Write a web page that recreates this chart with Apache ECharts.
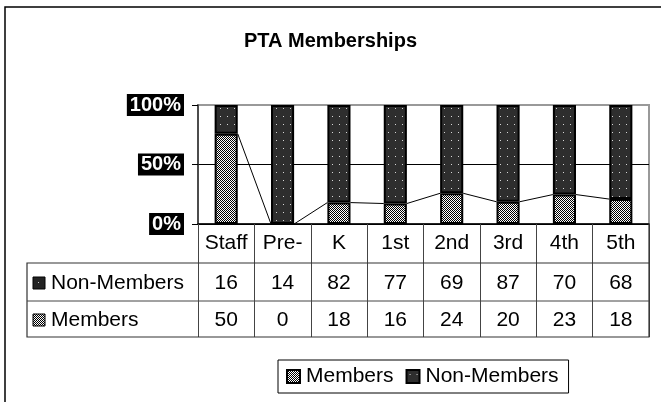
<!DOCTYPE html>
<html>
<head>
<meta charset="utf-8">
<script src="https://cdn.jsdelivr.net/npm/echarts@6/dist/echarts.min.js"></script>
<style>
  html, body { margin: 0; padding: 0; background: #fff; }
  #chart { width: 661px; height: 402px; }
</style>
</head>
<body>
<div id="chart"></div>
<script>
// data
const categories = ['Staff', 'Pre-', 'K', '1st', '2nd', '3rd', '4th', '5th'];
const members = [50, 0, 18, 16, 24, 20, 23, 18];
const nonMembers = [16, 14, 82, 77, 69, 87, 70, 68];
const yTickLabels = ['0%', '50%', '100%'];

const FONT = '"Liberation Sans", Arial, sans-serif';

// 100% stack: share of each school group
const membersPct = members.map((m, i) => m / (m + nonMembers[i]) * 100);
const nonMembersPct = nonMembers.map((n, i) => n / (members[i] + n) * 100);

// old excel fill patterns
function makePattern(kind) {
  const c = document.createElement('canvas');
  const ctx = c.getContext('2d');
  if (kind === 'checker') {
    c.width = 2; c.height = 2;
    ctx.fillStyle = '#fff'; ctx.fillRect(0, 0, 2, 2);
    ctx.fillStyle = '#000'; ctx.fillRect(0, 0, 1, 1); ctx.fillRect(1, 1, 1, 1);
  } else {
    c.width = 7; c.height = 8;
    ctx.fillStyle = '#2e2e2e'; ctx.fillRect(0, 0, 7, 8);
    ctx.fillStyle = '#d8d8d8'; ctx.fillRect(3, 4, 1, 1);
  }
  return { image: c, repeat: 'repeat' };
}
const memberFill = makePattern('checker');
const nonMemberFill = makePattern('dots');

const chart = echarts.init(document.getElementById('chart'));

const BAR_RATIO = 0.41;
const ROW_TOP = 263, ROW_MID = 301, ROW_BOT = 337;
const TABLE_LEFT = 27, TABLE_RIGHT = 649;

const option = {
  animation: false,
  textStyle: { fontFamily: FONT },
  title: {
    text: 'PTA Memberships',
    left: 'center',
    top: 26,
    textStyle: { fontSize: 20, fontWeight: 'bold', color: '#000', fontFamily: FONT }
  },
  legend: {
    data: ['Members', 'Non-Members'],
    left: 278,
    top: 360,
    icon: 'rect',
    itemWidth: 13,
    itemHeight: 13,
    itemGap: 12,
    padding: [6, 10, 6, 8],
    borderColor: '#000',
    borderWidth: 1,
    selectedMode: false,
    textStyle: { fontSize: 21, color: '#000', fontFamily: FONT, padding: [0, 0, 0, 1] }
  },
  grid: {
    left: 198, right: 12, top: 105, bottom: 178,
    show: true, borderColor: '#999', borderWidth: 2, backgroundColor: '#fff'
  },
  xAxis: {
    type: 'category',
    data: categories,
    axisLine: { lineStyle: { color: '#000', width: 1.5 } },
    axisTick: { show: true, length: ROW_BOT - 224, lineStyle: { color: '#444', width: 1 } },
    axisLabel: { fontSize: 21, color: '#000', margin: 9, fontFamily: FONT },
    splitLine: { show: false }
  },
  yAxis: {
    type: 'value',
    min: 0, max: 100, interval: 50,
    axisLine: { show: true, lineStyle: { color: '#333', width: 1.5 } },
    axisTick: { show: true, length: 6, lineStyle: { color: '#000' } },
    axisLabel: {
      formatter: (v) => yTickLabels[v / 50],
      color: '#fff', backgroundColor: '#000', fontWeight: 'bold',
      fontSize: 20, padding: [2, 3, 0, 3], margin: 14, fontFamily: FONT
    },
    splitLine: { show: true, lineStyle: { color: ['#000', '#000', '#999'], width: 1 } }
  },
  graphic: [
    // outer chart frame
    { type: 'rect', shape: { x: 5, y: 7, width: 700, height: 500 },
      style: { fill: 'none', stroke: '#000', lineWidth: 1.5 }, z: 100 },
    // data table frame
    { type: 'polyline', shape: { points: [[TABLE_RIGHT, ROW_TOP], [TABLE_LEFT, ROW_TOP], [TABLE_LEFT, ROW_BOT], [TABLE_RIGHT, ROW_BOT], [TABLE_RIGHT, 224]] },
      style: { fill: 'none', stroke: '#333', lineWidth: 1.2 }, z: 100 },
    { type: 'line', shape: { x1: TABLE_LEFT, y1: ROW_MID, x2: TABLE_RIGHT, y2: ROW_MID },
      style: { stroke: '#444', lineWidth: 1 }, z: 100 },
    // row headers with legend keys
    { type: 'rect', shape: { x: 33, y: 277, width: 12, height: 12 },
      style: { fill: '#222', stroke: '#000', lineWidth: 1 }, z: 100 },
    { type: 'rect', shape: { x: 38, y: 282, width: 1, height: 1 },
      style: { fill: '#ccc' }, z: 101 },
    { type: 'text', x: 51, y: (ROW_TOP + ROW_MID) / 2 + 1,
      style: { text: 'Non-Members', fontSize: 21, fill: '#000', verticalAlign: 'middle', fontFamily: FONT }, z: 100 },
    { type: 'rect', shape: { x: 33, y: 314, width: 12, height: 12 },
      style: { fill: memberFill, stroke: '#000', lineWidth: 1 }, z: 100 },
    { type: 'text', x: 51, y: (ROW_MID + ROW_BOT) / 2 + 1,
      style: { text: 'Members', fontSize: 21, fill: '#000', verticalAlign: 'middle', fontFamily: FONT }, z: 100 }
  ],
  series: [
    {
      name: 'Members',
      type: 'bar',
      stack: 'pct',
      barWidth: (BAR_RATIO * 100) + '%',
      data: membersPct,
      itemStyle: { color: memberFill, borderColor: '#000', borderWidth: 2 },
      z: 3
    },
    {
      name: 'Non-Members',
      type: 'bar',
      stack: 'pct',
      data: nonMembersPct,
      itemStyle: { color: nonMemberFill, borderColor: '#000', borderWidth: 2 },
      z: 3
    },
    {
      // series lines joining the top of each Members segment
      name: 'seriesLines',
      type: 'custom',
      clip: false,
      encode: { x: 0, y: 1 },
      data: membersPct.slice(0, -1).map((v, i) => [i, v, membersPct[i + 1]]),
      renderItem: (params, api) => {
        const i = api.value(0);
        const a = api.coord([i, api.value(1)]);
        const b = api.coord([i + 1, api.value(2)]);
        const half = api.size([1, 0])[0] * BAR_RATIO / 2;
        return {
          type: 'line',
          shape: { x1: a[0] + half, y1: a[1], x2: b[0] - half, y2: b[1] },
          style: { stroke: '#000', lineWidth: 1 }
        };
      },
      z: 4
    },
    {
      // data table values under each category
      name: 'table',
      type: 'custom',
      clip: false,
      encode: { x: 0, y: 1 },
      data: categories.map((c, i) => [i, nonMembers[i], members[i]]),
      renderItem: (params, api) => {
        const p = api.coord([api.value(0), 0]);
        const cell = (val, yMid) => ({
          type: 'text',
          x: p[0], y: yMid,
          style: { text: String(val), fontSize: 21, fill: '#000', align: 'center', verticalAlign: 'middle', fontFamily: FONT }
        });
        return {
          type: 'group',
          children: [
            cell(api.value(1), (ROW_TOP + ROW_MID) / 2 + 1),
            cell(api.value(2), (ROW_MID + ROW_BOT) / 2 + 1)
          ]
        };
      }
    }
  ]
};

chart.setOption(option);
</script>
</body>
</html>
